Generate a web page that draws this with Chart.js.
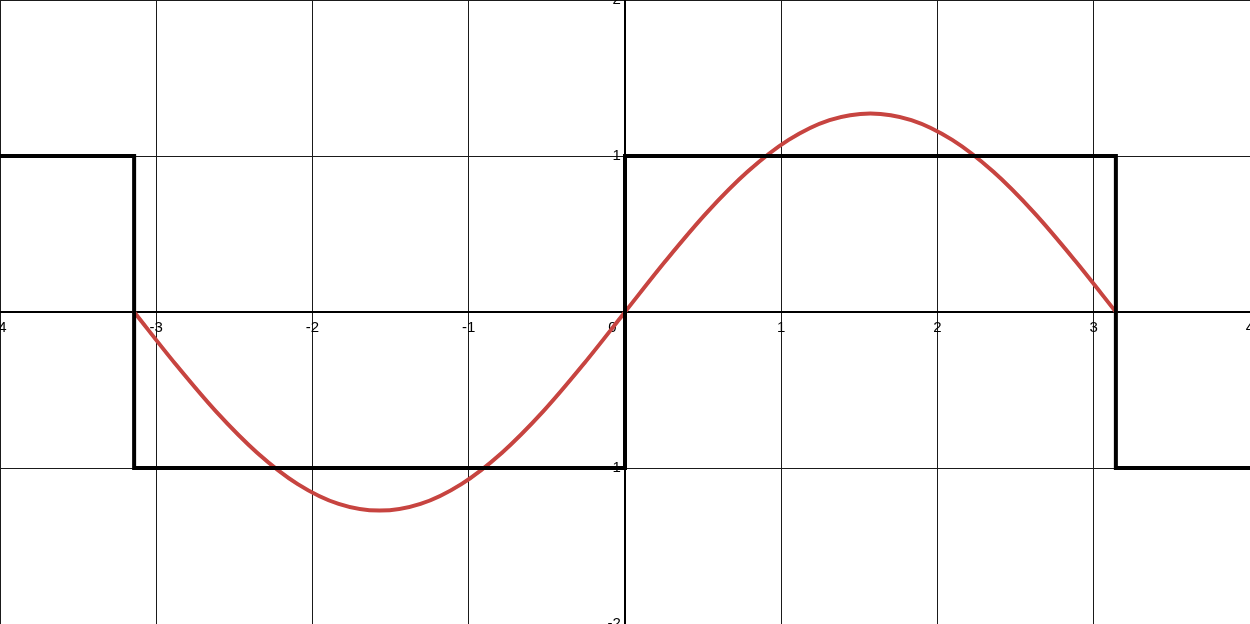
<!DOCTYPE html>
<html lang="en">
<head>
    <title>Square wave and first harmonic</title>
    <script src="https://cdn.jsdelivr.net/npm/chart.js"></script>
    <style>
        html, body {
            margin: 0;
            padding: 0;
            background: #ffffff;
        }
        .chart-container {
            position: relative;
            width: 1250px;
            height: 624px;
        }
    </style>
</head>
<body>
    <div class="chart-container">
        <canvas id="waveChart"></canvas>
    </div>

    <script>
        // Square wave corners (x, y)
        const squareX = [-4, -3.1416, -3.1416, 0, 0, 3.1416, 3.1416, 4];
        const squareY = [1, 1, -1, -1, 1, 1, -1, -1];

        // Red curve samples (evenly spaced)
        const sineX = [-3.1416, -2.8798, -2.618, -2.3562, -2.0944, -1.8326, -1.5708, -1.309, -1.0472, -0.7854, -0.5236, -0.2618,
                       0, 0.2618, 0.5236, 0.7854, 1.0472, 1.309, 1.5708, 1.8326, 2.0944, 2.3562, 2.618, 2.8798, 3.1416];
        const sineY = [0, -0.33, -0.637, -0.90, -1.103, -1.23, -1.273, -1.23, -1.103, -0.90, -0.637, -0.33,
                       0, 0.33, 0.637, 0.90, 1.103, 1.23, 1.273, 1.23, 1.103, 0.90, 0.637, 0.33, 0];

        // axis ticks
        const xTicks = [-4, -3, -2, -1, 0, 1, 2, 3, 4];
        const yTicks = [-2, -1, 0, 1, 2];

        const toPoints = (xs, ys) => xs.map((x, i) => ({ x: x, y: ys[i] }));

        const ctx = document.getElementById('waveChart').getContext('2d');
        const chart = new Chart(ctx, {
            type: 'scatter',
            data: {
                datasets: [
                    {
                        label: 'square',
                        data: toPoints(squareX, squareY),
                        showLine: true,
                        borderColor: '#000000',
                        borderWidth: 4,
                        pointRadius: 0,
                        tension: 0,
                        borderJoinStyle: 'miter',
                        borderCapStyle: 'butt'
                    },
                    {
                        label: 'sine',
                        data: toPoints(sineX, sineY),
                        showLine: true,
                        borderColor: '#c74440',
                        borderWidth: 4,
                        pointRadius: 0,
                        tension: 0.33,
                        borderCapStyle: 'round',
                        borderJoinStyle: 'round'
                    }
                ]
            },
            options: {
                responsive: true,
                maintainAspectRatio: false,
                animation: false,
                layout: { padding: 0 },
                plugins: {
                    legend: { display: false },
                    tooltip: { enabled: false }
                },
                scales: {
                    x: {
                        type: 'linear',
                        min: -4,
                        max: 4,
                        position: { y: 0 },
                        afterBuildTicks: s => { s.ticks = xTicks.map(v => ({ value: v })); },
                        afterFit: s => { s.height = 0; s.paddingLeft = 0; s.paddingRight = 0; },
                        grid: { color: '#1a1a1a', lineWidth: 1, drawTicks: false },
                        border: { color: '#000000', width: 2 },
                        ticks: {
                            autoSkip: false,
                            maxRotation: 0,
                            padding: 7,
                            color: '#000000',
                            font: { family: 'Liberation Sans', size: 15 },
                            // the origin label sits left of the y axis
                            callback: v => (v === 0 ? '0      ' : String(v))
                        }
                    },
                    y: {
                        type: 'linear',
                        min: -2,
                        max: 2,
                        position: { x: 0 },
                        afterBuildTicks: s => { s.ticks = yTicks.map(v => ({ value: v })); },
                        afterFit: s => { s.width = 0; s.paddingTop = 0; s.paddingBottom = 0; },
                        grid: { color: '#1a1a1a', lineWidth: 1, drawTicks: false },
                        border: { color: '#000000', width: 2 },
                        ticks: {
                            autoSkip: false,
                            color: '#000000',
                            font: { family: 'Liberation Sans', size: 15 },
                            callback: v => (v === 0 ? '' : String(v) + ' ')
                        }
                    }
                }
            }
        });
    </script>
</body>
</html>
